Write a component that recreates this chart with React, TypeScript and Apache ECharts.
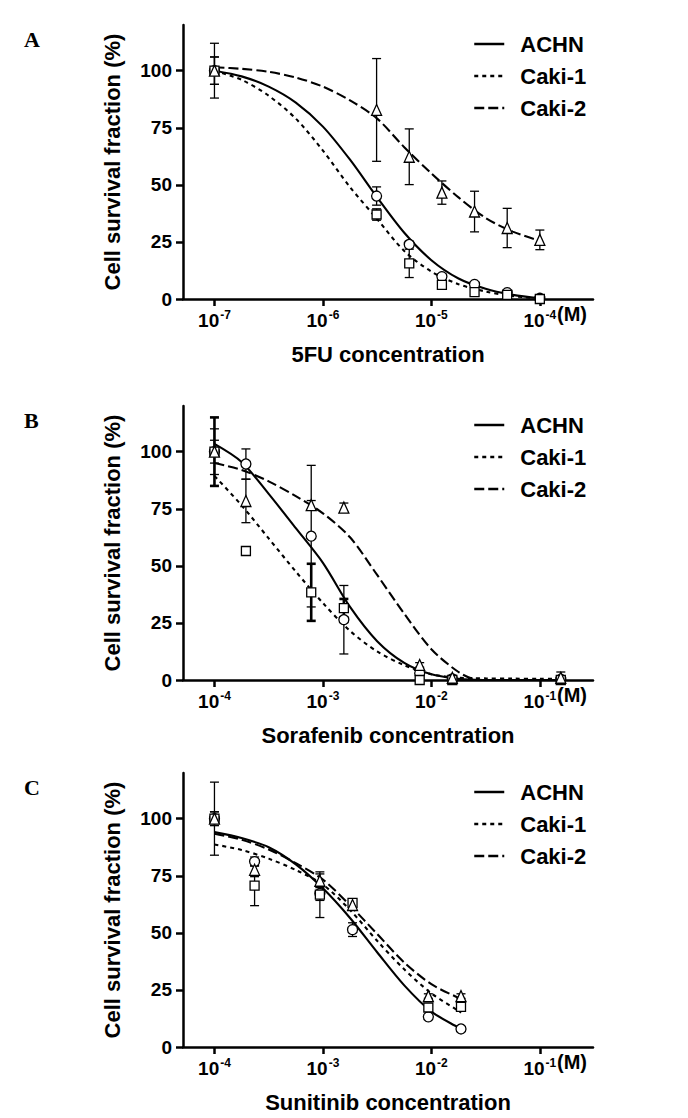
import React, { useEffect, useRef } from "react";
import * as echarts from "echarts";

// ---------- labels ----------
const CELL_LINES = ["ACHN", "Caki-1", "Caki-2"];
const PANEL_LETTERS = ["A", "B", "C"];
const X_TITLES = ["5FU concentration", "Sorafenib concentration", "Sunitinib concentration"];
const Y_TITLE = "Cell survival fraction (%)";
const Y_TICKS = [0, 25, 50, 75, 100];
const X_EXP_A = [-7, -6, -5, -4];
const X_EXP_BC = [-4, -3, -2, -1];
const UNIT_LABEL = "(M)";

// ---------- Panel A : 5FU ----------
const A_DOSE = [1e-7, 3.125e-6, 6.25e-6, 1.25e-5, 2.5e-5, 5e-5, 1e-4];
const A_ACHN = [100, 45.1, 23.9, 9.8, 6.4, 2.8, 0.3];
const A_ACHN_SD = [6, 4, 1.5, 1.2, 1, 0.8, 0.5];
const A_CAKI1 = [100, 37, 15.6, 6.2, 3.0, 1.8, 0];
const A_CAKI1_SD = [12, 2.5, 6.2, 1.5, 1, 0.6, 0.5];
const A_CAKI2 = [100, 82.8, 62.3, 46.6, 38.3, 31.1, 25.9];
const A_CAKI2_SD = [6, 22.5, 12.2, 5.1, 8.9, 8.6, 4.3];

const A_FIT_LOGX = [-7, -6.75, -6.5, -6.25, -6, -5.75, -5.5, -5.25, -5, -4.75, -4.5, -4.25, -4];
const A_FIT_ACHN = [100, 97.5, 93, 86, 75.5, 61, 44.5, 29, 17, 9, 4.5, 1.8, 0.3];
const A_FIT_CAKI1 = [100, 96, 89, 79, 65, 49, 35, 21, 12, 6.5, 3.3, 1.3, 0.2];
const A_FIT_CAKI2 = [101.5, 100.8, 99.5, 97, 93, 87, 79, 66.5, 55, 44.5, 35.5, 29.5, 25.5];

// ---------- Panel B : Sorafenib ----------
const B_DOSE = [1e-4, 1.95e-4, 7.8e-4, 1.56e-3, 7.8e-3, 1.56e-2, 1.56e-1];
const B_ACHN = [100, 94.6, 63, 26.4, 3.0, 0.5, 0.3];
const B_ACHN_SD = [10, 6.6, 31, 15, 1, 0.5, 0.5];
const B_CAKI1 = [100, 56.5, 38.4, 31.5, 0, 0, 0];
const B_CAKI1_SD = [15, 1.5, 12.5, 4, 0.5, 0.5, 0.5];
const B_CAKI2 = [100, 78.4, 76.6, 75.5, 6.6, 1, 1];
const B_CAKI2_SD = [5, 9.5, 2, 2, 1, 1, 2.5];

const B_FIT_LOGX = [-4, -3.75, -3.5, -3.25, -3, -2.75, -2.5, -2.25, -2, -1.75, -1.6, -1.5, -1.25, -1, -0.8];
const B_FIT_ACHN = [103.4, 95.5, 81.5, 66.5, 51.3, 32, 17, 7.5, 2.5, 0.5, 0.1, 0, 0, 0, 0];
const B_FIT_CAKI1 = [89.4, 76.5, 62, 47.5, 33.7, 21.5, 12.5, 6.5, 2.5, 1, 0.8, 0.7, 0.6, 0.5, 0.5];
const B_FIT_CAKI2 = [95, 92, 87, 80.5, 73, 62.5, 46, 29, 13.5, 3.5, 0.3, 0, 0, 0, 0];

// ---------- Panel C : Sunitinib ----------
const C_DOSE = [1e-4, 2.344e-4, 9.375e-4, 1.875e-3, 9.375e-3, 1.875e-2];
const C_ACHN = [100, 81.2, 67.2, 51.4, 13.2, 7.9];
const C_ACHN_SD = [3, 2, 3, 3, 1, 0.5];
const C_CAKI1 = [100, 70.7, 66.7, 63.1, 17.3, 17.6];
const C_CAKI1_SD = [16, 8.8, 10, 1.5, 1, 1.5];
const C_CAKI2 = [100, 77.6, 72.8, 62.2, 22.3, 22.3];
const C_CAKI2_SD = [3, 3, 3, 1, 1, 1];

const C_FIT_LOGX = [-4, -3.75, -3.5, -3.25, -3, -2.75, -2.5, -2.25, -2, -1.75, -1.727];
const C_FIT_ACHN = [94.1, 91.5, 87.5, 80, 69.5, 56.5, 41.5, 27, 15.5, 8.5, 8];
const C_FIT_CAKI1 = [88.7, 86.3, 82.5, 77.5, 71.1, 60, 46.5, 34, 23.5, 15.8, 15];
const C_FIT_CAKI2 = [93.4, 90.8, 86.5, 80.5, 73.3, 62, 49.5, 37, 27.5, 21.5, 21];

// ---------- assembling ----------
const PANELS = [
  {
    dose: A_DOSE,
    vals: [A_ACHN, A_CAKI1, A_CAKI2],
    sds: [A_ACHN_SD, A_CAKI1_SD, A_CAKI2_SD],
    fitX: A_FIT_LOGX,
    fits: [A_FIT_ACHN, A_FIT_CAKI1, A_FIT_CAKI2],
    exps: X_EXP_A,
    barWidths: [1.3, 1.3, 1.3],
  },
  {
    dose: B_DOSE,
    vals: [B_ACHN, B_CAKI1, B_CAKI2],
    sds: [B_ACHN_SD, B_CAKI1_SD, B_CAKI2_SD],
    fitX: B_FIT_LOGX,
    fits: [B_FIT_ACHN, B_FIT_CAKI1, B_FIT_CAKI2],
    exps: X_EXP_BC,
    barWidths: [1.3, 2.6, 1.3],
  },
  {
    dose: C_DOSE,
    vals: [C_ACHN, C_CAKI1, C_CAKI2],
    sds: [C_ACHN_SD, C_CAKI1_SD, C_CAKI2_SD],
    fitX: C_FIT_LOGX,
    fits: [C_FIT_ACHN, C_FIT_CAKI1, C_FIT_CAKI2],
    exps: X_EXP_BC,
    barWidths: [1.3, 1.3, 1.3],
  },
];

const GRID_TOPS = [25, 406, 773];
const GRID_LEFT = 183;
const GRID_W = 410;
const GRID_H = 274;
const LINE_TYPES: any[] = ["solid", [4, 4], [10, 4]];
const SYMBOLS = ["circle", "rect", "triangle"];
const SYMBOL_SIZES: any[] = [10, 9, [10, 11]];
const FONT = '"Liberation Sans", Arial, Helvetica, sans-serif';

export default function App() {
  const ref = useRef<HTMLDivElement>(null);

  useEffect(() => {
    if (!ref.current) return;
    const chart = echarts.init(ref.current, undefined, { renderer: "svg" });

    const grids: any[] = [];
    const xAxes: any[] = [];
    const yAxes: any[] = [];
    const series: any[] = [];
    const legends: any[] = [];
    const graphics: any[] = [];

    PANELS.forEach((p, pi) => {
      const top = GRID_TOPS[pi];
      grids.push({ left: GRID_LEFT, top, width: GRID_W, height: GRID_H, containLabel: false });
      const e0 = p.exps[0];
      xAxes.push({
        type: "value",
        gridIndex: pi,
        min: e0 - 0.29,
        max: e0 + 3.49,
        name: X_TITLES[pi],
        nameLocation: "middle",
        nameGap: 44,
        nameTextStyle: { fontSize: 22, fontWeight: "bold", color: "#000", fontFamily: FONT },
        axisLine: { onZero: false, lineStyle: { color: "#000", width: 2.5 } },
        axisTick: { show: true, length: 7, lineStyle: { color: "#000", width: 2.5 }, customValues: p.exps },
        splitLine: { show: false },
        axisLabel: {
          customValues: p.exps,
          margin: 9,
          formatter: (v: number) => `{b|10}{s|${Math.round(v)}}`,
          rich: {
            b: { fontSize: 19, fontWeight: "bold", color: "#000", fontFamily: FONT, lineHeight: 24 },
            s: { fontSize: 12, fontWeight: "bold", color: "#000", fontFamily: FONT, lineHeight: 12, padding: [0, 0, 11, 1] },
          },
        },
      });
      yAxes.push({
        type: "value",
        gridIndex: pi,
        min: 0,
        max: 120,
        name: Y_TITLE,
        nameLocation: "middle",
        nameGap: 60,
        nameTextStyle: { fontSize: 22, fontWeight: "bold", color: "#000", fontFamily: FONT },
        axisLine: { show: true, lineStyle: { color: "#000", width: 2.5 } },
        axisTick: { show: true, length: 7, lineStyle: { color: "#000", width: 2.5 }, customValues: Y_TICKS },
        splitLine: { show: false },
        axisLabel: { customValues: Y_TICKS, margin: 11, fontSize: 19, fontWeight: "bold", color: "#000", fontFamily: FONT },
      });

      CELL_LINES.forEach((name, ci) => {
        series.push({
          type: "line",
          name,
          xAxisIndex: pi,
          yAxisIndex: pi,
          data: p.fitX.map((x, i) => [x, p.fits[ci][i]]),
          smooth: 0.3,
          symbol: "none",
          lineStyle: { color: "#000", width: 2.1, type: LINE_TYPES[ci] },
          itemStyle: { color: "#000" },
          z: 2,
          silent: true,
        });
        const bw = p.barWidths[ci];
        series.push({
          type: "custom",
          name: name + " SD",
          xAxisIndex: pi,
          yAxisIndex: pi,
          data: p.dose.map((d, i) => [Math.log10(d), p.vals[ci][i], p.sds[ci][i]]),
          encode: { x: 0, y: 1 },
          z: 3,
          silent: true,
          renderItem: (params: any, api: any) => {
            const x = api.value(0);
            const y = api.value(1);
            const e = api.value(2);
            const hi = api.coord([x, y + e]);
            const lo = api.coord([x, Math.max(0, y - e)]);
            const hw = 4.5;
            const st = { stroke: "#000", lineWidth: bw };
            return {
              type: "group",
              children: [
                { type: "line", shape: { x1: hi[0], y1: hi[1], x2: lo[0], y2: lo[1] }, style: st },
                { type: "line", shape: { x1: hi[0] - hw, y1: hi[1], x2: hi[0] + hw, y2: hi[1] }, style: st },
                { type: "line", shape: { x1: lo[0] - hw, y1: lo[1], x2: lo[0] + hw, y2: lo[1] }, style: st },
              ],
            };
          },
        });
        series.push({
          type: "scatter",
          name: name + " data",
          xAxisIndex: pi,
          yAxisIndex: pi,
          data: p.dose.map((d, i) => [Math.log10(d), p.vals[ci][i]]),
          symbol: SYMBOLS[ci],
          symbolSize: SYMBOL_SIZES[ci],
          itemStyle: { color: "#fff", borderColor: "#000", borderWidth: 1.3, opacity: 1 },
          z: 4,
          silent: true,
        });
      });

      legends.push({
        data: CELL_LINES,
        orient: "vertical",
        left: 473,
        top: top + 8,
        itemWidth: 30,
        itemHeight: 14,
        itemGap: 10,
        padding: 0,
        selectedMode: false,
        itemStyle: { color: "rgba(0,0,0,0)", borderColor: "rgba(0,0,0,0)", borderWidth: 0, opacity: 0 },
        lineStyle: { color: "#000", width: 2.5, opacity: 1 },
        textStyle: { fontSize: 22, fontWeight: "bold", color: "#000", fontFamily: FONT, padding: [0, 0, 0, 11], lineHeight: 22 },
      });

      graphics.push({
        type: "text",
        left: 24,
        top: top + 3,
        style: { text: PANEL_LETTERS[pi], font: 'bold 22px "Liberation Serif", "Times New Roman", serif', fill: "#000" },
      });
      graphics.push({
        type: "text",
        left: 557,
        top: top + GRID_H + 5,
        style: { text: UNIT_LABEL, font: 'bold 20px "Liberation Sans", Arial, sans-serif', fill: "#000" },
      });
    });

    chart.setOption({
      animation: false,
      backgroundColor: "#fff",
      grid: grids,
      xAxis: xAxes,
      yAxis: yAxes,
      legend: legends,
      series,
      graphic: graphics,
    });

    return () => chart.dispose();
  }, []);

  return (
    <div
      ref={ref}
      style={{ position: "absolute", left: 0, top: 0, width: 688, height: 1118, background: "#fff" }}
    />
  );
}
